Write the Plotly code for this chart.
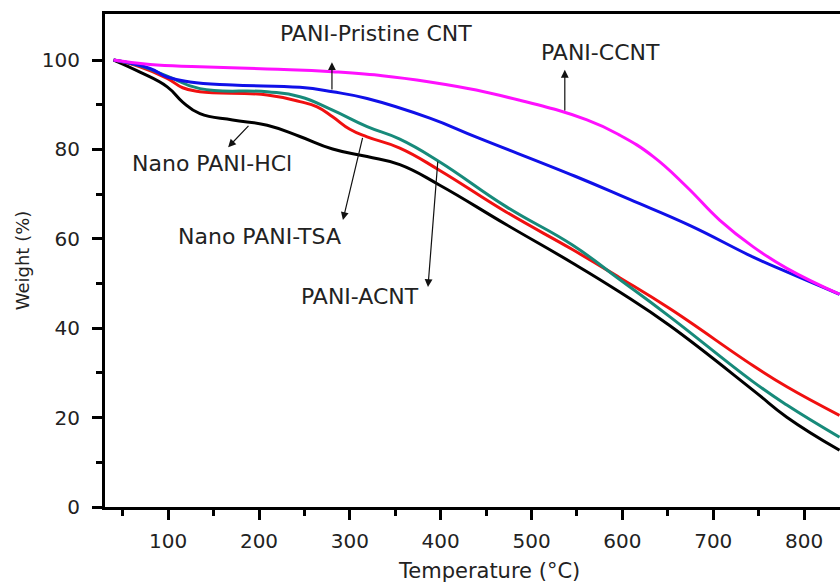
import plotly.graph_objects as go

# ---- data ----
hcl_t = [40, 69, 99, 116, 135, 171, 209, 245, 281, 319, 355, 399, 472, 545, 597, 652, 744, 781, 839]
hcl_w = [100, 97.3, 94, 90.6, 88.0, 86.6, 85.4, 82.9, 80.1, 78.4, 76.6, 72.0, 63.2, 54.6, 48.1, 40.6, 26.1, 20.1, 12.7]

tsa_t = [40, 69, 99, 116, 135, 209, 245, 264, 281, 300, 319, 355, 399, 472, 545, 597, 652, 744, 781, 839]
tsa_w = [100, 98.5, 95.9, 93.8, 92.9, 92.2, 90.7, 89.5, 87.3, 84.5, 82.8, 80.3, 75.3, 66.0, 57.6, 51.3, 44.4, 31.6, 26.9, 20.5]

acnt_t = [40, 69, 99, 135, 209, 245, 281, 319, 355, 399, 472, 545, 597, 652, 744, 781, 839]
acnt_w = [100, 98.7, 96.4, 93.6, 92.9, 91.8, 88.8, 85.1, 82.3, 77.2, 67.2, 58.6, 50.9, 42.6, 28.0, 22.8, 15.6]

cnt_t = [40, 80, 99, 124, 171, 245, 281, 319, 388, 440, 548, 608, 674, 744, 781, 839]
cnt_w = [100, 98.1, 96.2, 95.1, 94.4, 93.9, 92.9, 91.4, 87.0, 82.7, 74.0, 68.8, 63.0, 55.9, 52.6, 47.6]

ccnt_t = [40, 80, 135, 209, 281, 388, 487, 561, 597, 634, 671, 707, 744, 781, 839]
ccnt_w = [100, 99.0, 98.5, 98.0, 97.4, 95.1, 91.0, 86.6, 83.2, 78.4, 71.6, 64.2, 58.2, 53.4, 47.6]

series_names = ["Nano PANI-HCl", "Nano PANI-TSA", "PANI-ACNT", "PANI-Pristine CNT", "PANI-CCNT"]
series_colors = ["#000000", "#f01010", "#178a7a", "#1010e8", "#ff10ff"]

x_major = [100, 200, 300, 400, 500, 600, 700, 800]
x_minor = [50, 150, 250, 350, 450, 550, 650, 750]
y_major = [0, 20, 40, 60, 80, 100]
y_minor = [10, 30, 50, 70, 90]

FONT = "DejaVu Sans"

fig = go.Figure()
for t, w, name, col in zip([hcl_t, tsa_t, acnt_t, cnt_t, ccnt_t],
                           [hcl_w, tsa_w, acnt_w, cnt_w, ccnt_w],
                           series_names, series_colors):
    fig.add_trace(go.Scatter(x=t, y=w, mode="lines", name=name,
                             line=dict(color=col, width=3, shape="spline", smoothing=1.3)))

# label text and arrows (head at x,y ; tail at ax,ay)
labels = [
    # text, text_x, text_y, head_x, head_y, tail_x, tail_y
    ("PANI-Pristine CNT", 329, 106.0, 280.3, 99.5, 280.3, 93.1),
    ("PANI-CCNT", 576, 101.6, 536.6, 97.8, 536.6, 88.4),
    ("Nano PANI-HCl", 148, 76.9, 166, 80.5, 190, 85.6),
    ("Nano PANI-TSA", 200, 60.6, 292.4, 64.2, 314.4, 82.9),
    ("PANI-ACNT", 311, 47.1, 386, 49.2, 396.9, 77.6),
]
for text, tx, ty, hx, hy, sx, sy in labels:
    fig.add_annotation(x=tx, y=ty, text=text, showarrow=False,
                       font=dict(family=FONT, size=22, color="#222222"),
                       xanchor="center", yanchor="middle")
    fig.add_annotation(x=hx, y=hy, ax=sx, ay=sy, axref="x", ayref="y", text="",
                       showarrow=True, arrowhead=2, arrowsize=1.3, arrowwidth=1.2,
                       arrowcolor="#111111")

# x-axis title (centred as in the reference, whose frame runs past the crop)
fig.add_annotation(xref="paper", yref="paper", x=(489 - 105) / 735, y=-(571 - 507) / 493,
                   text="Temperature (°C)", showarrow=False,
                   font=dict(family=FONT, size=21, color="#222222"),
                   xanchor="center", yanchor="middle")

axis_common = dict(showgrid=False, zeroline=False, showline=True, linecolor="#000000",
                   linewidth=3, ticks="outside", ticklen=10, tickwidth=3, tickcolor="#000000",
                   tickfont=dict(family=FONT, size=20, color="#222222"))

fig.update_xaxes(range=[30.5, 839.5], tickvals=x_major, mirror=True,
                 minor=dict(tickvals=x_minor, ticks="outside", ticklen=6, tickwidth=3, tickcolor="#000000"),
                 ticklabelstandoff=4,
                 **axis_common)
fig.update_yaxes(range=[0, 110.3], tickvals=y_major, mirror=False,
                 minor=dict(tickvals=y_minor, ticks="outside", ticklen=6, tickwidth=3, tickcolor="#000000"),
                 title=dict(text="Weight (%)", font=dict(family=FONT, size=18, color="#222222"), standoff=8),
                 ticklabelstandoff=8,
                 **axis_common)

fig.update_layout(width=840, height=583, showlegend=False,
                  margin=dict(l=105, r=0, t=14, b=76),
                  plot_bgcolor="white", paper_bgcolor="white")

fig.write_html("out.html")
